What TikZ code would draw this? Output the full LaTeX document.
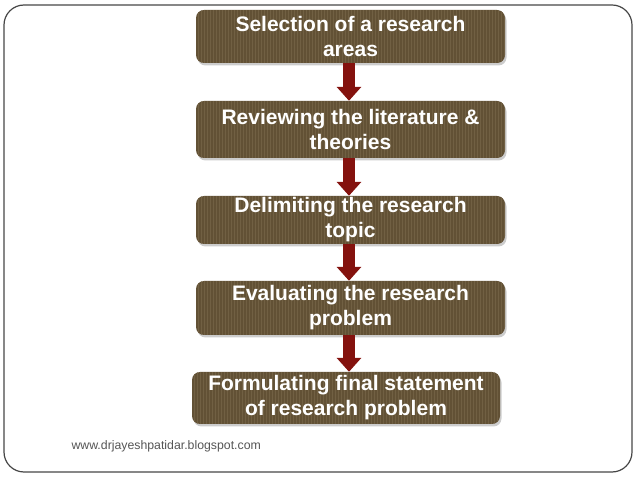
\documentclass[tikz,border=0pt]{standalone}
\usepackage{fontspec}
\setmainfont{Liberation Sans}
\usetikzlibrary{arrows.meta,shadows}

\definecolor{stepbrown}{RGB}{98,81,53}
\definecolor{stripebrown}{RGB}{113,96,67}
\definecolor{arrowred}{RGB}{132,18,14}
\definecolor{framegray}{RGB}{70,70,70}
\definecolor{footgray}{RGB}{85,85,85}

\tikzset{
  stepbox/.style={fill=stepbrown, rounded corners=8pt, minimum width=309pt,
    align=center, text=white, inner sep=0pt,
    font=\bfseries\fontsize{21}{25}\selectfont,
    drop shadow={shadow xshift=1.5pt, shadow yshift=-2.5pt, opacity=0.4},
    path picture={
      \foreach \i in {2,5,...,312}
        \draw[stripebrown, line width=0.5pt]
          ([xshift=\i pt]path picture bounding box.south west) --
          ([xshift=\i pt]path picture bounding box.north west);
    }},
  flowarrow/.style={arrowred, line width=12pt,
    -{Triangle[width=24pt,length=14pt]}}
}

\begin{document}
\begin{tikzpicture}[x=1pt, y=-1pt]
  \useasboundingbox (0,0) rectangle (638,478);
  \draw[framegray, line width=1.2pt, rounded corners=20pt] (4,5) rectangle (632,472);

  \node[stepbox, minimum height=53pt] (area) at (350.5,36.5) {Selection of a research\\areas};
  \node[stepbox, minimum height=57pt] (review) at (350.5,129.5) {Reviewing the literature \&\\theories};
  \node[stepbox, minimum height=48pt] (delimit) at (350.5,220) {Delimiting the research\\topic};
  \node[stepbox, minimum height=54pt] (evaluate) at (350.5,308) {Evaluating the research\\problem};
  \node[stepbox, minimum height=52pt, minimum width=308pt] (formulate) at (346,398) {Formulating final statement\\of research problem};

  \draw[flowarrow] ([xshift=-1.5pt]area.south) -- ([xshift=-1.5pt]review.north);
  \draw[flowarrow] ([xshift=-1.5pt]review.south) -- ([xshift=-1.5pt]delimit.north);
  \draw[flowarrow] ([xshift=-1.5pt]delimit.south) -- ([xshift=-1.5pt]evaluate.north);
  \draw[flowarrow] ([xshift=-1.5pt]evaluate.south) -- ([xshift=3pt]formulate.north);

  \node[anchor=west, text=footgray, font=\fontsize{12.3}{14}\selectfont] (site) at (68,446) {www.drjayeshpatidar.blogspot.com};
\end{tikzpicture}
\end{document}
